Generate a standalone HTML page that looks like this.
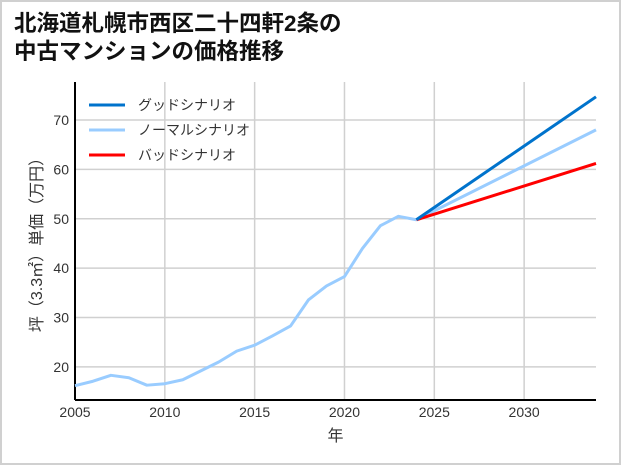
<!DOCTYPE html>
<html><head><meta charset="utf-8"><style>
body{margin:0;background:#fff;}
#wrap{position:relative;width:617px;height:461px;border:2px solid #d0d0d0;background:#fff;}
svg{position:absolute;left:-2px;top:-2px;}
text{font-family:"Liberation Sans","Noto Sans CJK JP",sans-serif;}
</style></head><body>
<div id="wrap">
<svg id="chart" width="621" height="465">
<text x="14" y="31" font-size="22.5" font-weight="bold" fill="#111">北海道札幌市西区二十四軒2条の</text>
<text x="14" y="59" font-size="22.5" font-weight="bold" fill="#111">中古マンションの価格推移</text>
</svg>
</div>
<script>
const years=[2005,2006,2007,2008,2009,2010,2011,2012,2013,2014,2015,2016,2017,2018,2019,2020,2021,2022,2023,2024];
const normalHist=[16.2,17.1,18.3,17.8,16.3,16.6,17.4,19.2,21.0,23.2,24.4,26.3,28.3,33.6,36.4,38.3,44.0,48.6,50.5,49.8];
const projYears=[2024,2034];
const goodProj=[49.8,74.7];
const normalProj=[49.8,68.0];
const badProj=[49.8,61.2];
const xTicks=[2005,2010,2015,2020,2025,2030];
const yTicks=[20,30,40,50,60,70];
const svg=document.getElementById('chart');
const NS='http://www.w3.org/2000/svg';
const L=75,R=596,T=82,B=400,x0=2005,x1=2034,y0=13.3,y1=77.7;
const X=v=>L+(v-x0)/(x1-x0)*(R-L);
const Y=v=>B-(v-y0)/(y1-y0)*(B-T);
function mk(t,a){const e=document.createElementNS(NS,t);for(const k in a)e.setAttribute(k,a[k]);svg.appendChild(e);return e;}
xTicks.forEach(t=>{const g=mk('line',{x1:X(t),x2:X(t),y1:T,y2:B,stroke:'#d0d0d0','stroke-width':1.5});

const tx=mk('text',{x:X(t),y:B+17,'font-size':14,'text-anchor':'middle',fill:'#333'});tx.textContent=t;
});
yTicks.forEach(t=>{const g=mk('line',{x1:L,x2:R,y1:Y(t),y2:Y(t),stroke:'#d0d0d0','stroke-width':1.5});

const tx=mk('text',{x:L-6,y:Y(t)+5,'font-size':14,'text-anchor':'end',fill:'#333'});tx.textContent=t;
});
let ax=mk('line',{x1:L,x2:L,y1:T,y2:B,stroke:'#000','stroke-width':2});

ax=mk('line',{x1:L,x2:R,y1:B,y2:B,stroke:'#000','stroke-width':2});

function line(xs,ys,c,name){const p=mk('polyline',{points:xs.map((v,i)=>X(v)+','+Y(ys[i])).join(' '),fill:'none',stroke:c,'stroke-width':3,'stroke-linejoin':'round'});
}
line(years,normalHist,'#99ccff','normal-history-line');
line(projYears,normalProj,'#99ccff','normal-scenario-line');
line(projYears,badProj,'#ff0000','bad-scenario-line');
line(projYears,goodProj,'#0073cc','good-scenario-line');
const leg=[['グッドシナリオ','#0073cc'],['ノーマルシナリオ','#99ccff'],['バッドシナリオ','#ff0000']];
leg.forEach((l,i)=>{const y=105+i*25;
const s=mk('line',{x1:89,x2:125,y1:y,y2:y,stroke:l[1],'stroke-width':3});

const t=mk('text',{x:138,y:y+5,'font-size':14,fill:'#333'});t.textContent=l[0];
});
let xt=mk('text',{x:(L+R)/2,y:441,'font-size':16,'text-anchor':'middle',fill:'#333'});xt.textContent='年';

let yt=mk('text',{x:0,y:0,'font-size':16,'text-anchor':'middle',fill:'#333',transform:'translate(42,241) rotate(-90)'});yt.textContent='坪（3.3㎡）単価（万円）';

</script>
</body></html>
